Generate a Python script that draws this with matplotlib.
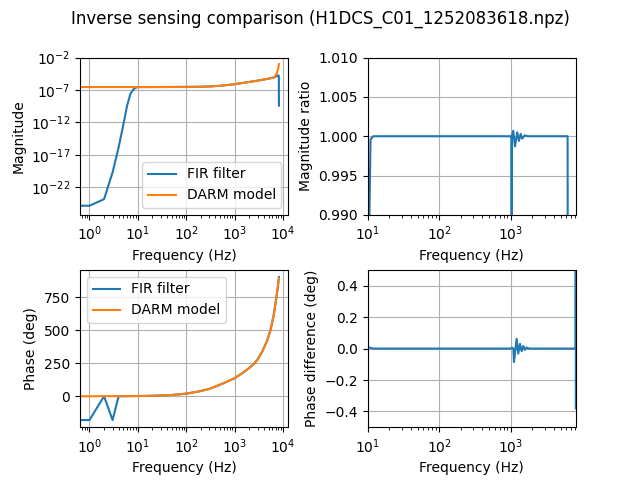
import numpy as np
import matplotlib
matplotlib.use("Agg")
import matplotlib.pyplot as plt

# ---- data ----
# magnitude (log10 values) of the DARM model inverse sensing
model_mag_freq = [0, 1, 10, 50, 100, 200, 300, 500, 1000, 2000, 3000, 5000, 6700, 7400, 7900, 8192]
model_mag_log = [-6.75, -6.54, -6.54, -6.53, -6.52, -6.49, -6.45, -6.35, -6.1, -5.75, -5.55, -5.25, -5.0, -4.4, -3.7, -3.0]

# FIR filter magnitude (log10 values)
fir_mag_freq = [0, 1, 2, 3, 4, 5, 6, 7, 8, 9, 10, 50, 100, 200, 300, 500, 1000, 2000, 3000, 5000, 6300, 7000, 7500, 8000, 8150, 8192]
fir_mag_log = [-24.84, -24.84, -23.83, -19.7, -15.84, -12.35, -9.38, -7.6, -6.94, -6.62, -6.55, -6.53, -6.52, -6.49, -6.45, -6.35, -6.1, -5.75, -5.55, -5.25, -5.1, -4.95, -4.8, -4.75, -4.8, -9.4]

# phase (deg)
model_ph_freq = [0, 1, 10, 20, 50, 100, 185, 300, 407, 600, 1000, 1500, 1963, 2490, 3000, 3690, 4670, 5480, 6400, 7140, 7850, 8192]
model_ph = [0, 0.05, 1.9, 3.8, 9.5, 20, 37, 56, 75, 100, 137, 180, 212, 245, 280, 337, 420, 500, 615, 730, 840, 892]

fir_ph_freq = [0, 1, 2, 3, 4, 5, 10, 20, 50, 100, 185, 300, 407, 600, 1000, 1500, 1963, 2490, 3000, 3690, 4670, 5480, 6400, 7140, 7850, 8192]
fir_ph = [-180, -180, 0, -180, 0, 0.5, 1.9, 3.8, 9.5, 20, 37, 56, 75, 100, 137, 180, 212, 245, 280, 337, 420, 500, 615, 730, 840, 902]

# magnitude ratio FIR / model
ratio_freq = [10, 11, 12, 100, 1000, 1030, 1033, 1036, 1087, 1148, 1236, 1306, 1379, 1452, 1567, 1760, 3000, 6250, 6300, 8192]
ratio_val = [0.975, 0.9996, 1.0, 1.0, 1.0, 1.0, 0.975, 1.0, 1.0007, 0.9987, 1.0005, 0.9994, 1.0003, 0.9997, 1.0001, 1.0, 1.0, 1.0, 0.975, 0.975]

# phase difference (deg)
pdiff_freq = [10, 11, 12, 100, 1000, 1050, 1090, 1112, 1212, 1277, 1348, 1424, 1500, 1583, 1671, 1800, 3000, 8100, 8130, 8150]
pdiff_val = [0.012, 0.004, 0.0, 0.0, 0.0, 0.005, 0.0, -0.086, 0.062, -0.032, 0.03, -0.017, 0.017, -0.008, 0.007, 0.0, 0.0, 0.0, 1.0, -0.38]

title = "Inverse sensing comparison (H1DCS_C01_1252083618.npz)"

fig, axs = plt.subplots(2, 2, figsize=(6.4, 4.8), dpi=100)
fig.subplots_adjust(left=0.125, right=0.9, top=0.88, bottom=0.11, wspace=0.38, hspace=0.35)
fig.suptitle(title, fontsize=12)

ax = axs[0, 0]
ax.plot(fir_mag_freq, np.power(10.0, fir_mag_log), label="FIR filter")
ax.plot(model_mag_freq, np.power(10.0, model_mag_log), label="DARM model")
ax.set_xscale("log")
ax.set_yscale("log")
ax.set_ylim(10 ** -26.25, 10 ** -2)
ax.yaxis.set_major_locator(matplotlib.ticker.FixedLocator([1e-22, 1e-17, 1e-12, 1e-7, 1e-2]))
ax.yaxis.set_minor_locator(matplotlib.ticker.NullLocator())
ax.grid(True)
ax.set_xlabel("Frequency (Hz)")
ax.set_ylabel("Magnitude")
ax.legend(loc="lower right")

ax = axs[0, 1]
ax.plot(ratio_freq, ratio_val)
ax.set_xscale("log")
ax.set_xlim(10, 8192)
ax.set_ylim(0.99, 1.01)
ax.yaxis.set_major_formatter(matplotlib.ticker.FormatStrFormatter("%.3f"))
ax.grid(True)
ax.set_xlabel("Frequency (Hz)")
ax.set_ylabel("Magnitude ratio")

ax = axs[1, 0]
ax.plot(fir_ph_freq, fir_ph, label="FIR filter")
ax.plot(model_ph_freq, model_ph, label="DARM model")
ax.set_xscale("log")
ax.grid(True)
ax.set_xlabel("Frequency (Hz)")
ax.set_ylabel("Phase (deg)")
ax.legend(loc="upper left")

ax = axs[1, 1]
ax.plot(pdiff_freq, pdiff_val)
ax.set_xscale("log")
ax.set_xlim(10, 8192)
ax.set_ylim(-0.5, 0.5)
ax.grid(True)
ax.set_xlabel("Frequency (Hz)")
ax.set_ylabel("Phase difference (deg)")

fig.savefig("out.png", dpi=100)
